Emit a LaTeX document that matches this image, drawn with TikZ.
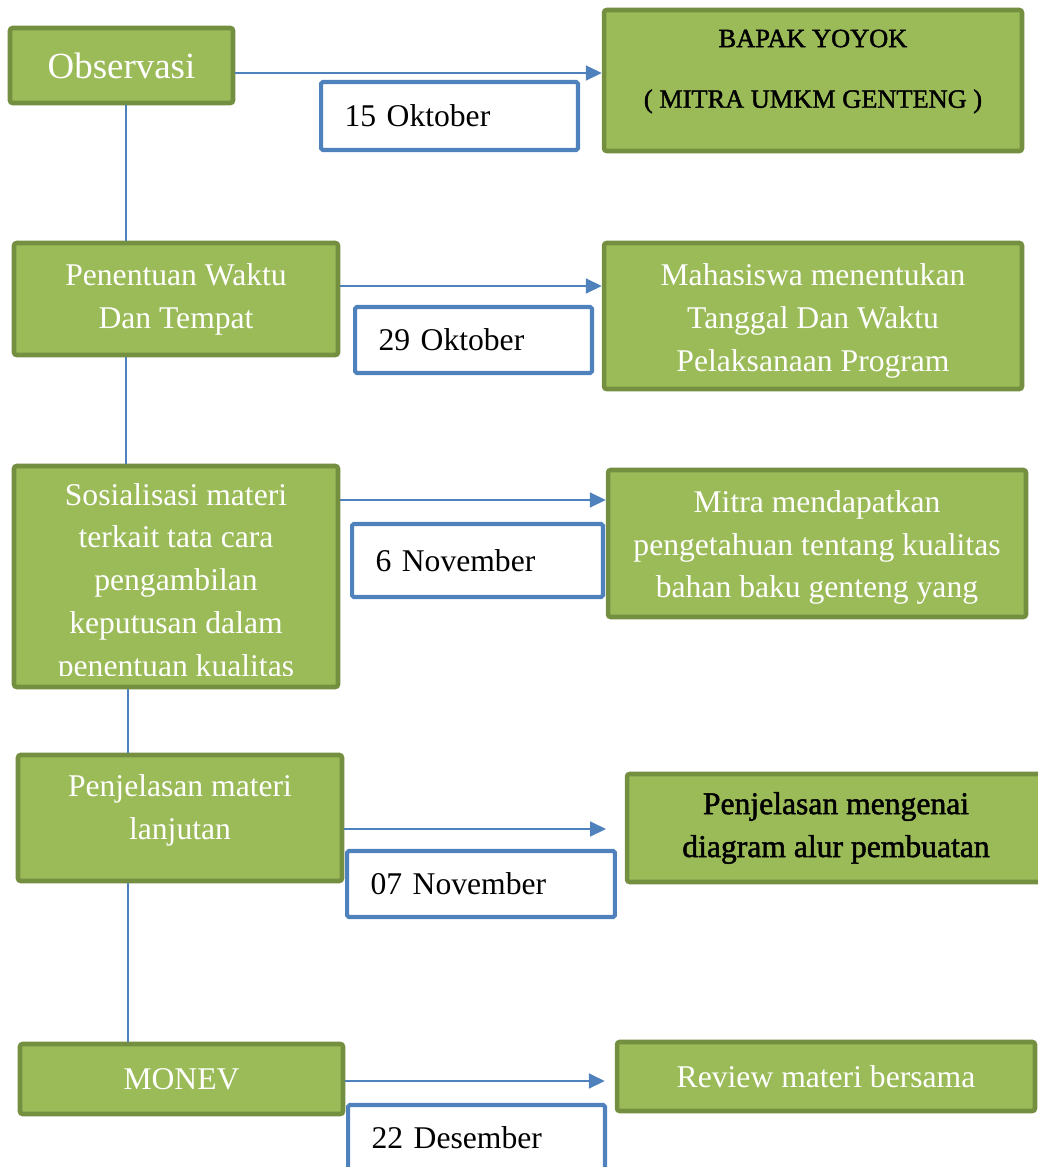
\documentclass[tikz,border=0pt]{standalone}
\usepackage{fontspec}
\setmainfont{Liberation Serif}
\newfontface\heavyface[FakeBold=1.6]{Liberation Serif}
\usetikzlibrary{arrows.meta,positioning,calc}
\definecolor{boxgreen}{HTML}{9BBB59}
\definecolor{boxedge}{HTML}{748F40}
\definecolor{lineblue}{HTML}{4F81BD}

\begin{document}
\begin{tikzpicture}[x=0.02cm,y=-0.02cm,
  gbox/.style={draw=boxedge,fill=boxgreen,line width=2.6pt,rounded corners=1.5pt,
    text=white,align=center,inner sep=0pt,font=\fontsize{18}{24.4}\selectfont},
  gtext/.style={text=white,align=center,inner sep=0pt,font=\fontsize{18}{24.4}\selectfont},
  dbox/.style={draw=lineblue,fill=white,line width=2.3pt,rounded corners=1pt,
    align=left,inner xsep=0.47cm,inner ysep=0pt,font=\fontsize{18}{22}\selectfont},
  arr/.style={draw=lineblue,line width=0.85pt,-{Triangle[length=9pt,width=8.5pt]}},
  link/.style={draw=lineblue,line width=0.85pt}]
  \useasboundingbox (0,0) rectangle (1038,1167);

  % left column
  \node[gbox,minimum width=4.46cm,minimum height=1.50cm,font=\fontsize{21}{25}\selectfont]
    (obs) at (121.5,65.5) {Observasi};
  \node[gbox,minimum width=6.48cm,minimum height=2.24cm] (waktu) at (176,299)
    {Penentuan Waktu\\Dan Tempat};
  \node[gbox,minimum width=6.48cm,minimum height=4.42cm] (sosial) at (176,576.5) {};
  \begin{scope}
    \clip (sosial.south west) ++(0,-14) rectangle (sosial.north east);
    \node[gtext,anchor=north] at ([yshift=-0.38cm]sosial.north)
      {Sosialisasi materi\\terkait tata cara\\pengambilan\\keputusan dalam\\penentuan kualitas};
  \end{scope}
  \node[gbox,minimum width=6.48cm,minimum height=2.52cm] (lanjut) at (180,818) {};
  \node[gtext] at ([yshift=0.16cm]lanjut.center) {Penjelasan materi\\lanjutan};
  \node[gbox,minimum width=6.46cm,minimum height=1.40cm] (monev) at (181.5,1079) {MONEV};

  % right column
  \node[gbox,minimum width=8.36cm,minimum height=2.82cm] (bapak) at (813,80.5) {};
  \node[font=\heavyface\fontsize{15}{18}\selectfont,align=center,inner sep=0pt]
    at ([yshift=0.18cm]bapak.center) {BAPAK YOYOK\\[16.5pt]( MITRA UMKM GENTENG )};
  \node[gbox,minimum width=8.36cm,minimum height=2.92cm] (mhs) at (813,316) {};
  \node[gtext] at ([yshift=-0.1cm]mhs.center)
    {Mahasiswa menentukan\\Tanggal Dan Waktu\\Pelaksanaan Program};
  \node[gbox,minimum width=8.36cm,minimum height=2.94cm] (mitra) at (817,543.5) {};
  \node[gtext] at ([yshift=-0.08cm]mitra.center)
    {Mitra mendapatkan\\pengetahuan tentang kualitas\\bahan baku genteng yang};
  \node[gbox,minimum width=8.36cm,minimum height=2.16cm,text=black,
    font=\heavyface\fontsize{18}{24.4}\selectfont] (diag) at (836,828)
    {Penjelasan mengenai\\diagram alur pembuatan};
  \node[gbox,minimum width=8.36cm,minimum height=1.38cm] (review) at (826,1076.5)
    {Review materi bersama};

  % dates
  \node[dbox,text width=4.20cm,minimum height=1.36cm] (d1) at (449.5,116) {15 Oktober};
  \node[dbox,text width=3.80cm,minimum height=1.32cm] (d2) at (473.5,340) {29 Oktober};
  \node[dbox,text width=4.08cm,minimum height=1.46cm] (d3) at (477.5,560.5) {6 November};
  \node[dbox,text width=4.42cm,minimum height=1.32cm] (d4) at (481,884) {07 November};
  \node[dbox,text width=4.20cm,minimum height=1.32cm] (d5) at (476.5,1138) {22 Desember};

  % arrows
  \draw[arr] (obs.east |- 0,73) -- (bapak.west |- 0,73);
  \draw[arr] (waktu.east |- 0,286) -- (mhs.west |- 0,286);
  \draw[arr] (sosial.east |- 0,500) -- (mitra.west |- 0,500);
  \coordinate (e4) at (606,829);
  \draw[arr] (lanjut.east |- e4) -- (e4);
  \draw[arr,shorten >=0.2cm] (monev.east |- 0,1081) -- (review.west |- 0,1081);

  % left spine
  \draw[link] (126,0 |- obs.south) -- (126,0 |- waktu.north);
  \draw[link] (126,0 |- waktu.south) -- (126,0 |- sosial.north);
  \draw[link] (128,0 |- sosial.south) -- (128,0 |- lanjut.north);
  \draw[link] (128,0 |- lanjut.south) -- (128,0 |- monev.north);
\end{tikzpicture}
\end{document}
